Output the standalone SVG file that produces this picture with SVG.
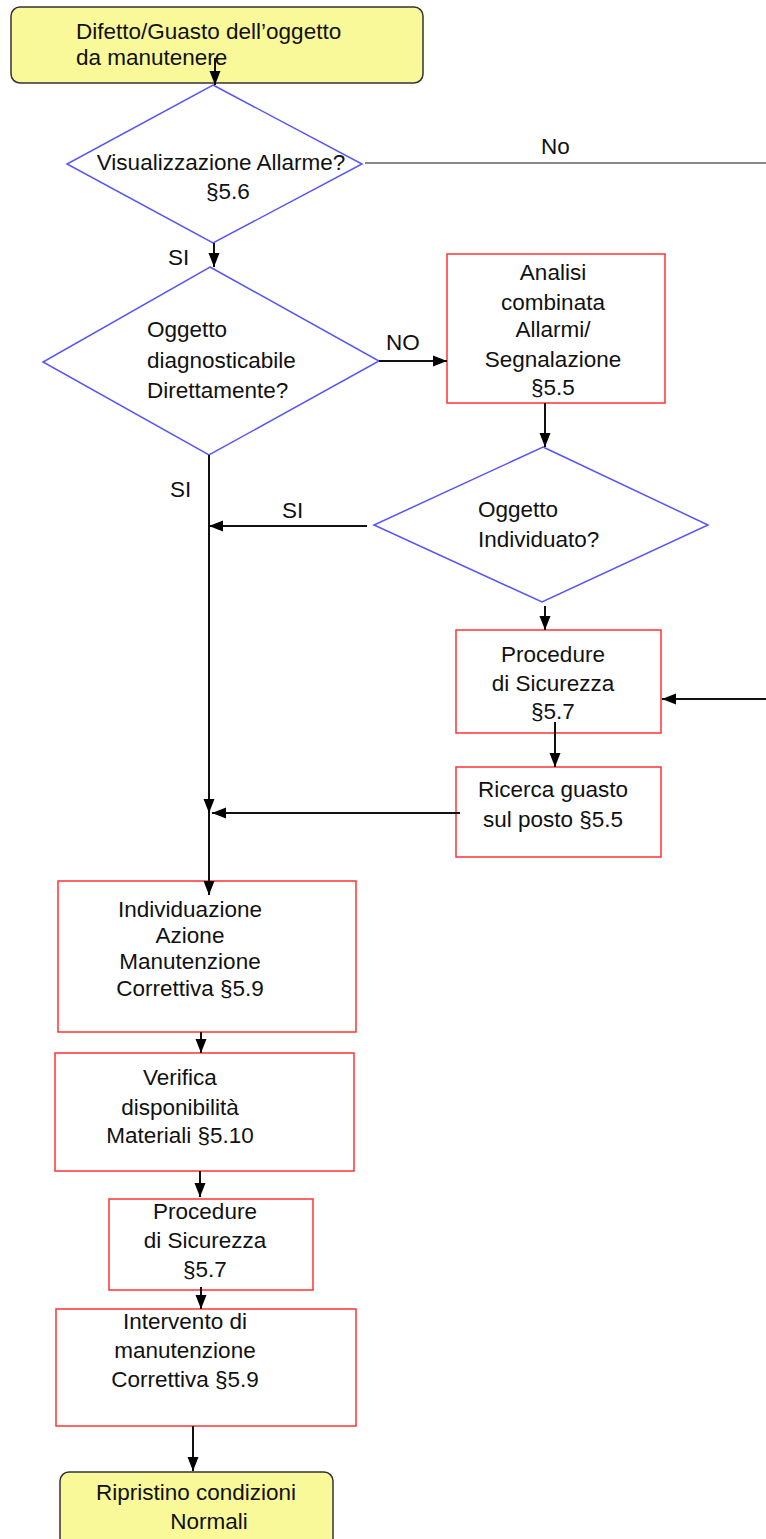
<svg xmlns="http://www.w3.org/2000/svg" width="766" height="1539" viewBox="0 0 766 1539">
<style>
text{font-family:"Liberation Sans",Arial,sans-serif;font-size:22.5px;fill:#111}
.m{text-anchor:middle}
.term{fill:#f9f99a;stroke:#333;stroke-width:1.5}
.dec{fill:#fff;stroke:#5555ff;stroke-width:1.5}
.proc{fill:#fff;stroke:#ff3333;stroke-width:1.5}
.c{stroke:#111;stroke-width:2;fill:none}
.g{stroke:#888;stroke-width:2;fill:none}
</style>
<defs>
<marker id="ah" markerUnits="userSpaceOnUse" markerWidth="14" markerHeight="12" refX="14" refY="6" orient="auto">
<path d="M0,0.5 L14,6 L0,11.5 z" fill="#000"/>
</marker>
</defs>
<rect width="766" height="1539" fill="#fff"/>
<g id="start">
<rect class="term" x="11" y="7" width="412" height="76" rx="9"/>
<text x="76" y="39">Difetto/Guasto dell’oggetto</text>
<text x="76" y="65">da manutenere</text>
</g>
<g id="d1">
<polygon class="dec" points="213,85 362,164 213,243 67,164"/>
<text class="m" x="221" y="170">Visualizzazione Allarme?</text>
<text class="m" x="228" y="199">§5.6</text>
</g>
<g id="d2">
<polygon class="dec" points="210,267 379,361 209,455 43,362"/>
<text x="147" y="337">Oggetto</text>
<text x="147" y="368">diagnosticabile</text>
<text x="147" y="398">Direttamente?</text>
</g>
<g id="analisi">
<rect class="proc" x="447" y="254" width="218" height="149"/>
<text class="m" x="553" y="280">Analisi</text>
<text class="m" x="553" y="310">combinata</text>
<text class="m" x="553" y="337">Allarmi/</text>
<text class="m" x="553" y="367">Segnalazione</text>
<text class="m" x="553" y="395">§5.5</text>
</g>
<g id="d3">
<polygon class="dec" points="543,447 708,525 542,602 374,525"/>
<text x="478" y="517">Oggetto</text>
<text x="478" y="547">Individuato?</text>
</g>
<g id="proc1">
<rect class="proc" x="456" y="630" width="205" height="103"/>
<text class="m" x="553" y="662">Procedure</text>
<text class="m" x="553" y="691">di Sicurezza</text>
<text class="m" x="553" y="719">§5.7</text>
</g>
<g id="ricerca">
<rect class="proc" x="456" y="767" width="205" height="90"/>
<text class="m" x="553" y="797">Ricerca guasto</text>
<text class="m" x="553" y="827">sul posto §5.5</text>
</g>
<g id="individuazione">
<rect class="proc" x="58" y="881" width="298" height="151"/>
<text class="m" x="190" y="917">Individuazione</text>
<text class="m" x="190" y="943">Azione</text>
<text class="m" x="190" y="969">Manutenzione</text>
<text class="m" x="190" y="996">Correttiva §5.9</text>
</g>
<g id="verifica">
<rect class="proc" x="55" y="1053" width="299" height="118"/>
<text class="m" x="180" y="1085">Verifica</text>
<text class="m" x="180" y="1115">disponibilità</text>
<text class="m" x="180" y="1143">Materiali §5.10</text>
</g>
<g id="proc2">
<rect class="proc" x="109" y="1199" width="204" height="91"/>
<text class="m" x="205" y="1219">Procedure</text>
<text class="m" x="205" y="1248">di Sicurezza</text>
<text class="m" x="205" y="1277">§5.7</text>
</g>
<g id="intervento">
<rect class="proc" x="56" y="1309" width="300" height="117"/>
<text class="m" x="185" y="1329">Intervento di</text>
<text class="m" x="185" y="1358">manutenzione</text>
<text class="m" x="185" y="1387">Correttiva §5.9</text>
</g>
<g id="end">
<rect class="term" x="60" y="1472" width="273" height="90" rx="9"/>
<text class="m" x="196" y="1500">Ripristino condizioni</text>
<text class="m" x="209" y="1529">Normali</text>
</g>
<g id="connectors">
<line class="c" x1="215" y1="58" x2="215" y2="85" marker-end="url(#ah)"/>
<line class="g" x1="365" y1="163" x2="766" y2="163"/>
<line class="c" x1="214" y1="243" x2="214" y2="267" marker-end="url(#ah)"/>
<line class="c" x1="379" y1="361" x2="447" y2="361" marker-end="url(#ah)"/>
<line class="c" x1="545" y1="403" x2="545" y2="447" marker-end="url(#ah)"/>
<line class="c" x1="367" y1="526" x2="209" y2="526" marker-end="url(#ah)"/>
<line class="c" x1="209" y1="455" x2="209" y2="813" marker-end="url(#ah)"/>
<line class="c" x1="545" y1="606" x2="545" y2="630" marker-end="url(#ah)"/>
<line class="c" x1="766" y1="699" x2="662" y2="699" marker-end="url(#ah)"/>
<line class="c" x1="555" y1="722" x2="555" y2="767" marker-end="url(#ah)"/>
<line class="c" x1="460" y1="813" x2="212" y2="813" marker-end="url(#ah)"/>
<line class="c" x1="209" y1="813" x2="209" y2="895" marker-end="url(#ah)"/>
<line class="c" x1="201" y1="1032" x2="201" y2="1053" marker-end="url(#ah)"/>
<line class="c" x1="200" y1="1171" x2="200" y2="1197" marker-end="url(#ah)"/>
<line class="c" x1="201" y1="1287" x2="201" y2="1309" marker-end="url(#ah)"/>
<line class="c" x1="193" y1="1426" x2="193" y2="1471" marker-end="url(#ah)"/>
<text x="541" y="154">No</text>
<text x="168" y="265">SI</text>
<text x="386" y="350">NO</text>
<text x="170" y="497">SI</text>
<text x="282" y="518">SI</text>
</g>
</svg>
